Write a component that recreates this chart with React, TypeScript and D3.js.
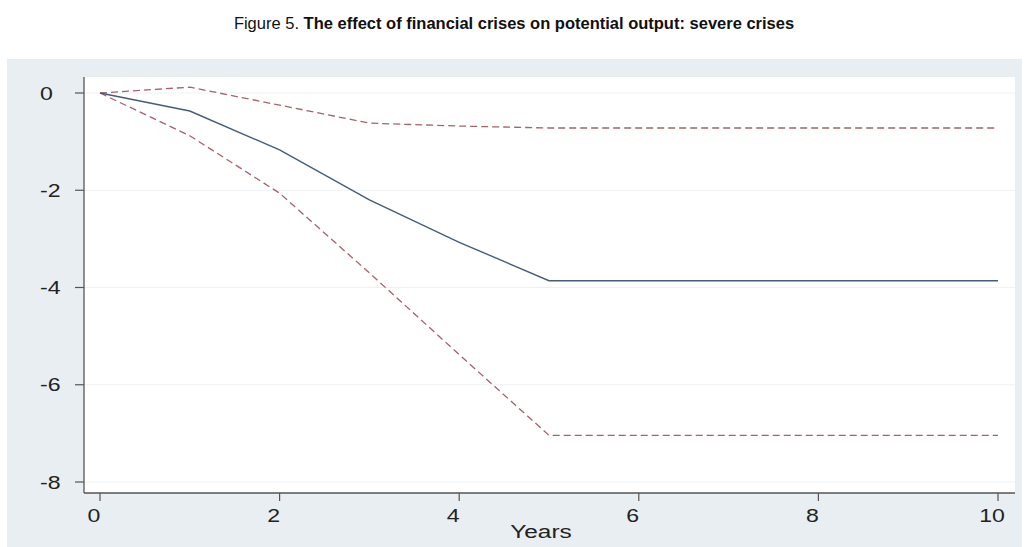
import React from "react";
import * as d3 from "d3";

// Years after the crisis
const years = [0, 1, 2, 3, 4, 5, 6, 7, 8, 9, 10];
// Point estimate of the effect on potential output (%)
const estimate = [0, -0.37, -1.17, -2.2, -3.07, -3.86, -3.86, -3.86, -3.86, -3.86, -3.86];
// Upper confidence band
const upperBand = [0, 0.12, -0.25, -0.62, -0.68, -0.72, -0.72, -0.72, -0.72, -0.72, -0.72];
// Lower confidence band
const lowerBand = [0, -0.88, -2.06, -3.7, -5.38, -7.04, -7.04, -7.04, -7.04, -7.04, -7.04];

const yTicks = [0, -2, -4, -6, -8];
const xTicks = [0, 2, 4, 6, 8, 10];

const W = 1026;
const H = 547;
// axis text is drawn horizontally widened
const STRETCH = 1.32;

function WideText(props: { x: number; y: number; anchor: string; size: number; children: React.ReactNode }) {
  return (
    <g transform={`translate(${props.x},${props.y}) scale(${STRETCH},1)`}>
      <text x={0} y={0} textAnchor={props.anchor} fontSize={props.size} fill="#222">
        {props.children}
      </text>
    </g>
  );
}

export default function App() {
  const plot = { left: 84, right: 1015, top: 77, bottom: 493 };
  const x = d3.scaleLinear().domain([0, 10]).range([100, 998]);
  const y = d3.scaleLinear().domain([0, -8]).range([93, 482]);

  const line = d3
    .line<number>()
    .x((_, i) => x(years[i]))
    .y((d) => y(d));

  const font = "'Liberation Sans', Arial, sans-serif";

  return (
    <svg
      width={W}
      height={H}
      style={{ position: "absolute", left: 0, top: 0, background: "#ffffff" }}
      fontFamily={font}
    >
      <text x={514} y={29} textAnchor="middle" fontSize={16.5} fill="#111">
        <tspan>Figure 5. </tspan>
        <tspan fontWeight="bold">The effect of financial crises on potential output: severe crises</tspan>
      </text>

      {/* outer graph region */}
      <rect x={7} y={59} width={1015} height={488} fill="#e8eef1" />
      {/* plot region */}
      <rect
        x={plot.left}
        y={plot.top}
        width={plot.right - plot.left}
        height={plot.bottom - plot.top}
        fill="#ffffff"
      />

      {/* horizontal grid */}
      {yTicks.map((t) => (
        <line
          key={"g" + t}
          x1={plot.left}
          x2={plot.right}
          y1={y(t)}
          y2={y(t)}
          stroke="#eef2f4"
          strokeWidth={1.2}
        />
      ))}

      {/* series */}
      <path d={line(upperBand) ?? ""} fill="none" stroke="#a0646b" strokeWidth={1.3} strokeDasharray="7,4" />
      <path d={line(lowerBand) ?? ""} fill="none" stroke="#a0646b" strokeWidth={1.3} strokeDasharray="7,4" />
      <path d={line(estimate) ?? ""} fill="none" stroke="#455d78" strokeWidth={1.4} />

      {/* axes */}
      <line x1={plot.left} x2={plot.left} y1={plot.top} y2={plot.bottom} stroke="#555" strokeWidth={1.3} />
      <line x1={plot.left} x2={plot.right} y1={plot.bottom} y2={plot.bottom} stroke="#555" strokeWidth={1.3} />

      {yTicks.map((t) => (
        <g key={"y" + t}>
          <line x1={plot.left - 9} x2={plot.left} y1={y(t)} y2={y(t)} stroke="#555" strokeWidth={1.2} />
          <WideText x={40} y={y(t) + 6.5} anchor="start" size={17.5}>
            {t === 0 ? "0" : "-" + Math.abs(t)}
          </WideText>
        </g>
      ))}

      {xTicks.map((t) => (
        <g key={"x" + t}>
          <line x1={x(t)} x2={x(t)} y1={plot.bottom} y2={plot.bottom + 8} stroke="#555" strokeWidth={1.2} />
          <WideText x={x(t) - 6} y={522} anchor="middle" size={17.5}>
            {t}
          </WideText>
        </g>
      ))}

      <WideText x={541} y={538} anchor="middle" size={18.5}>
        Years
      </WideText>
    </svg>
  );
}
